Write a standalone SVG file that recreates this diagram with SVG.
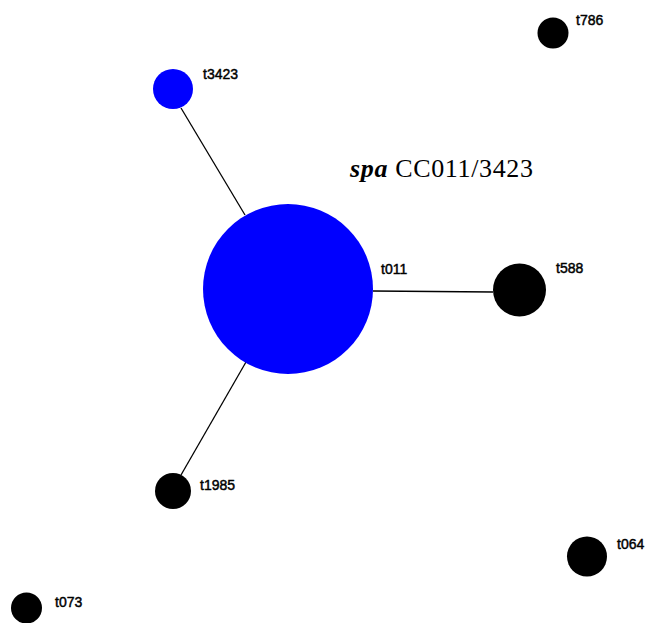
<svg xmlns="http://www.w3.org/2000/svg" width="646" height="623" viewBox="0 0 646 623">
<style>
.lbl{font-family:"Liberation Sans",Arial,sans-serif;font-size:14px;fill:#000;stroke:#000;stroke-width:0.45}
.blue{fill:#0000ff}
.black{fill:#000}
.edge{stroke:#000;stroke-width:1.3;fill:none}
</style>
<rect width="646" height="623" fill="#fff"/>
<g id="edges">
<line class="edge" x1="181" y1="108" x2="245" y2="215"/>
<line class="edge" x1="373" y1="291" x2="493" y2="292"/>
<line class="edge" x1="246" y1="362" x2="181" y2="475"/>
</g>
<g id="t011"><circle class="blue" cx="288" cy="289" r="85"/><text class="lbl" x="381" y="274">t011</text></g>
<g id="t3423"><circle class="blue" cx="173" cy="89" r="20"/><text class="lbl" x="203" y="79">t3423</text></g>
<g id="t588"><circle class="black" cx="519.5" cy="290" r="26.5"/><text class="lbl" x="556" y="273">t588</text></g>
<g id="t1985"><circle class="black" cx="173" cy="491" r="18"/><text class="lbl" x="200" y="490">t1985</text></g>
<g id="t786"><circle class="black" cx="553" cy="33" r="15.5"/><text class="lbl" x="576" y="25">t786</text></g>
<g id="t064"><circle class="black" cx="587" cy="556.5" r="20"/><text class="lbl" x="617" y="549">t064</text></g>
<g id="t073"><circle class="black" cx="26.5" cy="608" r="15.5"/><text class="lbl" x="55" y="607">t073</text></g>
<text x="350" y="177" font-family="'Liberation Serif','Times New Roman',serif" font-size="26" fill="#000" textLength="183" lengthAdjust="spacing"><tspan font-style="italic" font-weight="bold">spa</tspan> CC011/3423</text>
</svg>
